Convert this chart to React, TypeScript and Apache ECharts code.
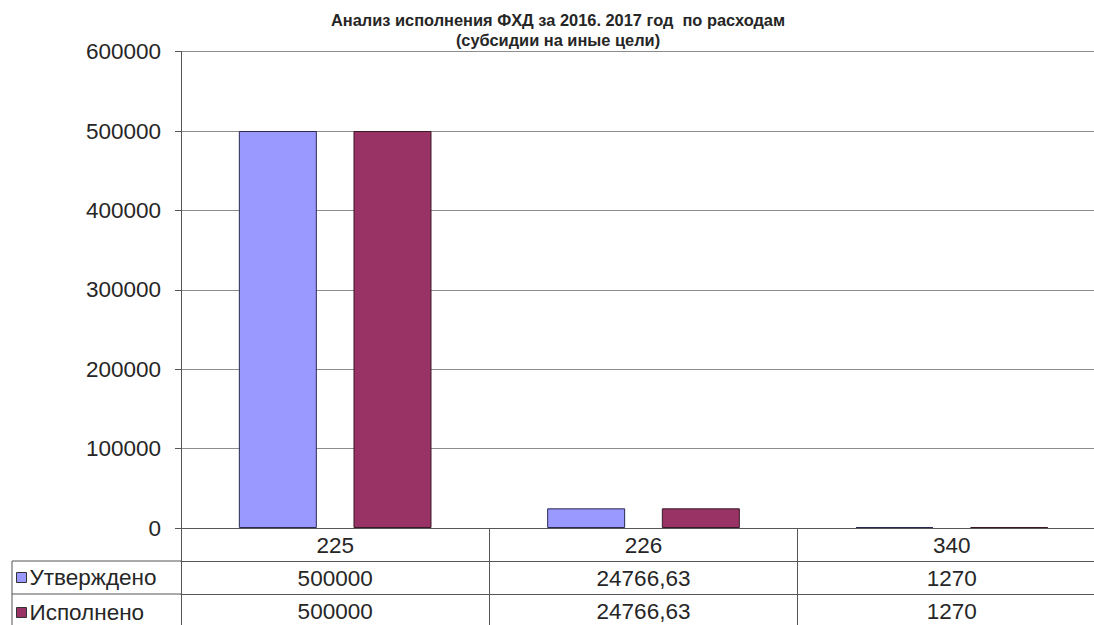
import React, { useEffect, useRef } from "react";
import * as echarts from "echarts";

const categories = ["225", "226", "340"];
const seriesNames = ["Утверждено", "Исполнено"];
const approved = [500000, 24766.63, 1270];
const executed = [500000, 24766.63, 1270];
const yMin = 0;
const yMax = 600000;
const yStep = 100000;
const titleLine1 = "Анализ исполнения ФХД за 2016. 2017 год  по расходам";
const titleLine2 = "(субсидии на иные цели)";

const fmt = (v: number) => String(v).replace(".", ",");

const FONT = "Liberation Sans, Arial, sans-serif";
const TXT = "#262626";
const LINE = "#555";
const FS = 22.5;

export default function App() {
  const ref = useRef<HTMLDivElement>(null);
  useEffect(() => {
    if (!ref.current) return;
    const chart = echarts.init(ref.current, undefined, { renderer: "svg" });
    const tableAxis = (data: string[], offset: number) => ({
      type: "category",
      data,
      position: "bottom",
      offset,
      gridIndex: 0,
      axisLine: { show: true, lineStyle: { color: LINE, width: 1 } },
      axisTick: { show: true, interval: 0, length: 33, lineStyle: { color: LINE } },
      axisLabel: {
        interval: 0,
        margin: 5.5,
        color: TXT,
        fontFamily: FONT,
        fontSize: FS,
      },
      splitLine: { show: false },
    });
    chart.setOption({
      animation: false,
      backgroundColor: "#fff",
      textStyle: { fontFamily: FONT },
      title: {
        text: `{a|${titleLine1}}\n{b|${titleLine2}}`,
        left: 558,
        top: 10,
        textAlign: "center",
        padding: 0,
        z: 10,
        textStyle: {
          rich: {
            a: { fontSize: 16.4, fontWeight: "bold", color: TXT, fontFamily: FONT, lineHeight: 20 },
            b: {
              fontSize: 16.4,
              fontWeight: "bold",
              color: TXT,
              fontFamily: FONT,
              lineHeight: 20,
              backgroundColor: "#fff",
            },
          },
        },
      },
      legend: {
        data: seriesNames,
        orient: "vertical",
        left: 16,
        top: 566,
        padding: 0,
        itemGap: 12,
        icon: "rect",
        itemWidth: 10,
        itemHeight: 10,
        itemStyle: { borderColor: "#333", borderWidth: 1 },
        textStyle: { fontSize: FS, color: TXT, fontFamily: FONT, lineHeight: 22, padding: [0, 0, 0, -2] },
        selectedMode: false,
      },
      grid: { left: 181, right: 0, top: 51.6, bottom: 97, containLabel: false },
      xAxis: [
        tableAxis(categories, 0),
        tableAxis(approved.map(fmt), 33),
        tableAxis(executed.map(fmt), 66),
      ],
      yAxis: {
        type: "value",
        min: yMin,
        max: yMax,
        interval: yStep,
        axisLine: { show: true, lineStyle: { color: LINE, width: 1 } },
        axisTick: { show: true, length: 6, lineStyle: { color: LINE } },
        axisLabel: {
          color: TXT,
          fontFamily: FONT,
          fontSize: FS,
          margin: 20,
          formatter: (v: number) => String(v),
        },
        splitLine: { show: true, lineStyle: { color: "#8c8c8c", width: 1 } },
      },
      series: [
        {
          name: seriesNames[0],
          type: "bar",
          data: approved,
          barWidth: 78,
          barGap: "47%",
          itemStyle: { color: "#9999FF", borderColor: "#2a2a55", borderWidth: 1 },
        },
        {
          name: seriesNames[1],
          type: "bar",
          data: executed,
          barWidth: 78,
          itemStyle: { color: "#993366", borderColor: "#3a1a26", borderWidth: 1 },
        },
      ],
      graphic: [
        { type: "line", shape: { x1: 12, y1: 561, x2: 181, y2: 561 }, style: { stroke: LINE, lineWidth: 1 } },
        { type: "line", shape: { x1: 12, y1: 594, x2: 181, y2: 594 }, style: { stroke: LINE, lineWidth: 1 } },
        { type: "line", shape: { x1: 12, y1: 561, x2: 12, y2: 625 }, style: { stroke: LINE, lineWidth: 1 } },
      ],
    });
    return () => chart.dispose();
  }, []);
  return (
    <div
      style={{ position: "fixed", left: 0, top: 0, width: 1094, height: 625, overflow: "hidden", background: "#fff" }}
    >
      <div ref={ref} style={{ width: 1106, height: 625 }} />
    </div>
  );
}
